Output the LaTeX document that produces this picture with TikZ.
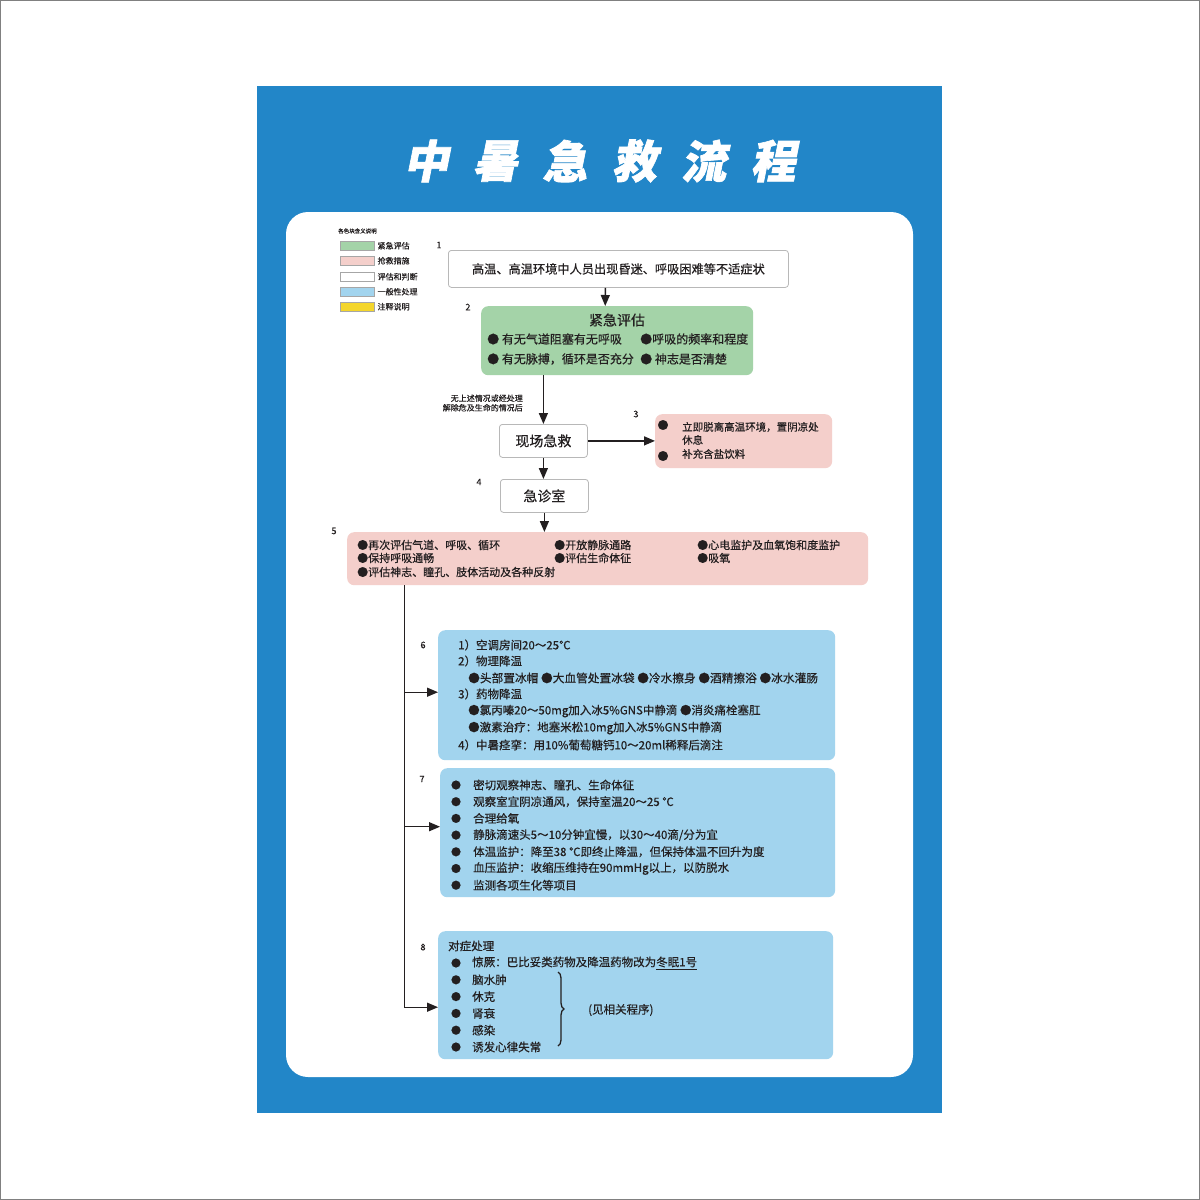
\documentclass[tikz,border=0pt]{standalone}
\usepackage{fontspec}
\setmainfont{Noto Sans CJK SC}[FakeBold=0.5]
\newfontfamily\titlefont{Noto Sans CJK SC}[FakeSlant=0.2,FakeBold=1.5]
\usetikzlibrary{arrows.meta,decorations.pathreplacing}
\definecolor{panelblue}{RGB}{34,134,200}
\definecolor{gbox}{RGB}{164,211,168}
\definecolor{pbox}{RGB}{244,207,203}
\definecolor{bbox}{RGB}{162,212,238}
\definecolor{ybox}{RGB}{244,214,44}
\definecolor{txt}{RGB}{35,31,32}
\newcommand{\fs}[1]{\fontsize{#1}{#1}\selectfont}
\begin{document}
\begin{tikzpicture}[x=1pt,y=-1pt,
  box/.style={rounded corners=7pt, inner sep=0pt, anchor=north west},
  wbox/.style={box, fill=white, draw=black!28, line width=0.8pt},
  gbx/.style={box, fill=gbox},
  pbx/.style={box, fill=pbox},
  bbx/.style={box, fill=bbox},
  tl/.style={anchor=west, inner sep=0pt, text=txt},
  num/.style={anchor=center, inner sep=0pt, text=txt, font=\fs{9}},
  leg/.style={draw=black!35, line width=0.4pt, minimum width=34, minimum height=9, inner sep=0pt, anchor=north west},
  arr/.style={line width=1.4pt, draw=txt, -{Triangle[length=11pt,width=9pt]}},
  ln/.style={line width=1.1pt, draw=txt}
]
\useasboundingbox (0,0) rectangle (1200,1200);
\draw[black!50, line width=1pt] (0.5,0.5) rectangle (1199.5,1199.5);
% panels
\fill[panelblue] (257,86) rectangle (942,1113);
\fill[white, rounded corners=22pt] (286,212) rectangle (913,1077);
% title
\foreach \c [count=\i from 0] in {中,暑,急,救,流,程}{
  \node[text=white, inner sep=0pt, font=\titlefont\bfseries\fs{45}] (title\i) at (426+69.4*\i,161) {\c};
}
% legend
\node[tl, font=\fs{5.5}] (legt) at (338,231) {各色块含义说明};
\node[leg, fill=gbox] (l1) at (340,241) {};
\node[leg, fill=pbox] (l2) at (340,256) {};
\node[leg, fill=white] (l3) at (340,272) {};
\node[leg, fill=bbox] (l4) at (340,287) {};
\node[leg, fill=ybox] (l5) at (340,302) {};
\node[tl, font=\fs{8}] (lt1) at ([xshift=3pt]l1.east) {紧急评估};
\node[tl, font=\fs{8}] (lt2) at ([xshift=3pt]l2.east) {抢救措施};
\node[tl, font=\fs{8}] (lt3) at ([xshift=3pt]l3.east) {评估和判断};
\node[tl, font=\fs{8}] (lt4) at ([xshift=3pt]l4.east) {一般性处理};
\node[tl, font=\fs{8}] (lt5) at ([xshift=3pt]l5.east) {注释说明};
% numbers
\node[num] (n1) at (439,245) {1};
\node[num] (n2) at (468,307) {2};
\node[num] (n3) at (636,414) {3};
\node[num] (n4) at (479,482) {4};
\node[num] (n5) at (334,531) {5};
\node[num] (n6) at (423,645) {6};
\node[num] (n7) at (422,779) {7};
\node[num] (n8) at (423,947) {8};
% box 1
\node[wbox, rounded corners=3pt, minimum width=340, minimum height=37, font=\fs{12.2}, text=txt] (b1) at (448,250) {高温、高温环境中人员出现昏迷、呼吸困难等不适症状};
% box 2
\node[gbx, minimum width=272, minimum height=69] (b2) at (481,306) {};
\node[inner sep=0pt, text=txt, font=\fs{14}] (b2t) at (617,320) {紧急评估};
\node[tl, font=\fs{12}] (b2a) at (487,339) {● 有无气道阻塞有无呼吸};
\node[tl, font=\fs{12}] (b2b) at (640,339) {●呼吸的频率和程度};
\node[tl, font=\fs{12}] (b2c) at (487,359) {● 有无脉搏，循环是否充分};
\node[tl, font=\fs{12}] (b2d) at (640,359) {● 神志是否清楚};
% note
\node[anchor=east, inner sep=0pt, text=txt, font=\fs{8}, align=right] (note) at (523,403) {无上述情况或经处理\\[1.5pt]解除危及生命的情况后};
% 现场急救
\node[wbox, rounded corners=3pt, minimum width=88, minimum height=33, font=\fs{14}, text=txt] (xa) at (499,424) {现场急救};
% box 3
\node[pbx, minimum width=177, minimum height=54] (b3) at (655,414) {};
\node[inner sep=0pt, text=txt, font=\fs{11}] (b3d1) at (663,425) {●};
\node[inner sep=0pt, text=txt, font=\fs{11}] (b3d2) at (663,456) {●};
\node[tl, font=\fs{10.5}] (b3a) at (682,427) {立即脱离高温环境，置阴凉处};
\node[tl, font=\fs{10.5}] (b3b) at (682,440) {休息};
\node[tl, font=\fs{10.5}] (b3c) at (682,454) {补充含盐饮料};
% 急诊室
\node[wbox, rounded corners=3pt, minimum width=88, minimum height=33, font=\fs{14}, text=txt] (jz) at (500,479) {急诊室};
% box 5
\node[pbx, minimum width=521, minimum height=53] (b5) at (347,532) {};
\node[tl, font=\fs{11}] (b5a) at (357,545) {●再次评估气道、呼吸、循环};
\node[tl, font=\fs{11}] (b5b) at (357,558) {●保持呼吸通畅};
\node[tl, font=\fs{11}] (b5c) at (357,572) {●评估神志、瞳孔、肢体活动及各种反射};
\node[tl, font=\fs{11}] (b5d) at (554,545) {●开放静脉通路};
\node[tl, font=\fs{11}] (b5e) at (554,558) {●评估生命体征};
\node[tl, font=\fs{11}] (b5f) at (697,545) {●心电监护及血氧饱和度监护};
\node[tl, font=\fs{11}] (b5g) at (697,558) {●吸氧};
% box 6
\node[bbx, minimum width=397, minimum height=130] (b6) at (438,630) {};
\node[tl, font=\fs{11.5}] (b6a) at (458,645) {1）空调房间20～25℃};
\node[tl, font=\fs{11.5}] (b6b) at (458,661) {2）物理降温};
\node[tl, font=\fs{11.7}] (b6c) at (468,678) {●头部置冰帽 ●大血管处置冰袋 ●冷水擦身 ●酒精擦浴 ●冰水灌肠};
\node[tl, font=\fs{11.5}] (b6d) at (458,694) {3）药物降温};
\node[tl, font=\fs{11.5}] (b6e) at (468,711) {●氯丙嗪20～50mg加入冰5\%GNS中静滴 ●消炎痛栓塞肛};
\node[tl, font=\fs{11.5}] (b6f) at (468,728) {●激素治疗：地塞米松10mg加入冰5\%GNS中静滴};
\node[tl, font=\fs{11.5}] (b6g) at (458,745) {4）中暑痉挛：用10\%葡萄糖钙10～20ml稀释后滴注};
% box 7
\node[bbx, minimum width=395, minimum height=129] (b7) at (440,768) {};
\foreach \t [count=\i from 0] in {密切观察神志、瞳孔、生命体征,观察室宜阴凉通风，保持室温20～25 ℃,合理给氧,静脉滴速头5～10分钟宜慢，以30～40滴/分为宜,体温监护：降至38 ℃即终止降温，但保持体温不回升为度,血压监护：收缩压维持在90mmHg以上，以防脱水,监测各项生化等项目}{
  \node[inner sep=0pt, text=txt, font=\fs{10}] (b7d\i) at (456,785+16.7*\i) {●};
  \node[tl, font=\fs{11.5}] (b7t\i) at (473,785+16.7*\i) {\t};
}
% box 8
\node[bbx, minimum width=395, minimum height=128] (b8) at (438,931) {};
\node[tl, font=\fs{11.5}] (b8h) at (448,946) {对症处理};
\foreach \t [count=\i from 0] in {{惊厥：巴比妥类药物及降温药物改为\underline{冬眠1号}},脑水肿,休克,肾衰,感染,诱发心律失常}{
  \node[inner sep=0pt, text=txt, font=\fs{10}] (b8d\i) at (456,963+16.8*\i) {●};
  \node[tl, font=\fs{11.5}] (b8t\i) at (472,963+16.8*\i) {\t};
}
\draw[decorate, decoration={brace, amplitude=6pt}, line width=1.3pt, draw=txt] (558,972) -- (558,1046);
\node[tl, font=\fs{11.5}] (b8n) at (588,1010) {(见相关程序)};
% connectors
\draw[arr] ([xshift=-13pt]b1.south) -- ([xshift=-12pt]b2.north);
\draw[arr] (b2.south -| xa.north) -- (xa.north);
\draw[arr] (xa.east) -- (b3.west |- xa.east);
\draw[arr] (xa.south) -- (xa.south |- jz.north);
\draw[arr] (jz.south) -- (jz.south |- b5.north);
\coordinate (t0) at ([xshift=-203.5pt]b5.south);
\coordinate (t8) at ([yshift=-12pt]b8.west);
\coordinate (t6) at ([yshift=3pt]b6.west);
\coordinate (t7) at ([yshift=6pt]b7.west);
\draw[ln] (t0) -- (t0 |- t8);
\draw[arr] (t0 |- t6) -- (t6);
\draw[arr] (t0 |- t7) -- (t7);
\draw[arr] (t0 |- t8) -- (t8);
\end{tikzpicture}
\end{document}
